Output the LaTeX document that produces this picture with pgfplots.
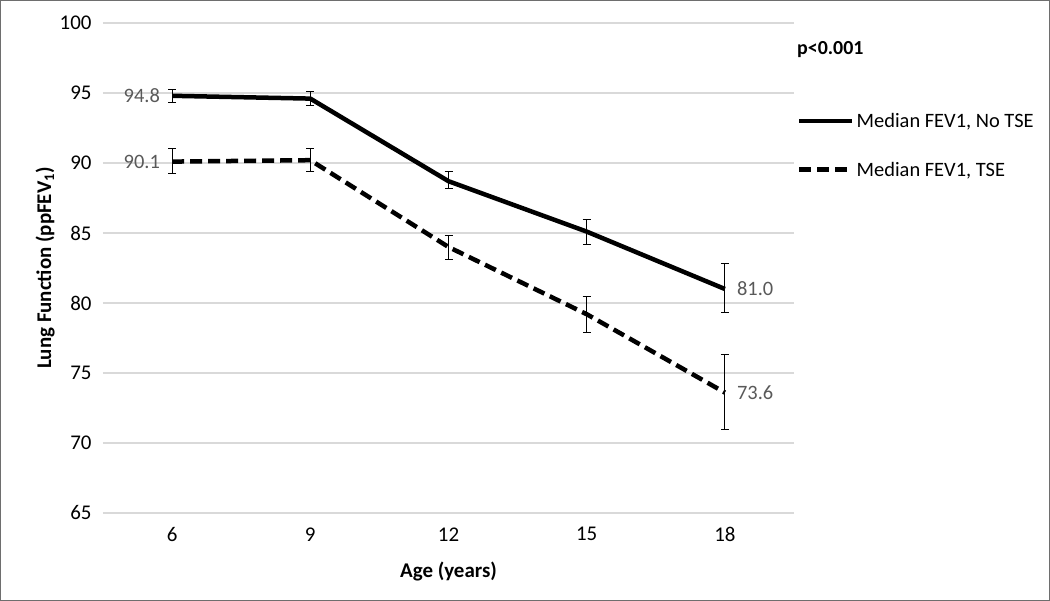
\documentclass[border=0pt]{standalone}
\usepackage{pgfplots}
\pgfplotsset{compat=1.18}
\usepackage{fontspec}
\setmainfont{Carlito}
\definecolor{gridgray}{HTML}{D9D9D9}
\definecolor{labgray}{HTML}{595959}
\definecolor{framegray}{HTML}{6E6E6E}
\begin{document}
\begin{tikzpicture}
\begin{axis}[
  at={(0,0)}, anchor=south west,
  scale only axis,
  width=691bp, height=490bp,
  xmin=-0.5, xmax=4.5,
  ymin=65, ymax=100,
  xtick={0,1,2,3,4},
  xticklabels={6,9,12,15,18},
  ytick={65,70,75,80,85,90,95,100},
  major tick length=0pt,
  axis line style={draw=none},
  ymajorgrids,
  grid style={gridgray, line width=1.2bp},
  tick label style={font=\fontsize{21}{25}\selectfont, black},
  xticklabel style={yshift=-11bp},
  yticklabel style={xshift=-8bp},
  /pgf/number format/assume math mode=true,
  xlabel={\bfseries Age (years)},
  ylabel={\bfseries Lung Function (ppFEV\textsubscript{1})},
  label style={font=\fontsize{21}{25}\selectfont},
  xlabel style={at={(axis description cs:0.5,-0.1204)}, anchor=center},
  ylabel style={at={(axis description cs:-0.0839,0.5)}, anchor=center},
  clip=false,
  legend style={draw=none, fill=none, at={(axis description cs:1,0.8245)}, xshift=0bp,
    anchor=north west, font=\fontsize{20.5}{24}\selectfont, row sep=29bp,
    legend cell align=left},
  legend image code/.code={\draw[#1] (0bp,0bp) -- (53bp,0bp);},
  error bars/error mark=-,
  error bars/error bar style={solid, black, line width=1.1bp},
  error bars/error mark options={rotate=90, solid, black, line width=1.1bp, mark size=4bp},
]
\addplot[black, line width=4.5bp, line join=round,
  error bars/.cd, y dir=both, y explicit]
coordinates {
  (0,94.8) += (0,0.46) -= (0,0.5)
  (1,94.6) += (0,0.5) -= (0,0.5)
  (2,88.7) += (0,0.7) -= (0,0.5)
  (3,85.1) += (0,0.85) -= (0,0.95)
  (4,81.0) += (0,1.8) -= (0,1.7)
};
\addlegendentry{Median FEV1, No TSE}
\addplot[black, line width=4.5bp, dash pattern=on 12bp off 6bp,
  error bars/.cd, y dir=both, y explicit]
coordinates {
  (0,90.1) += (0,0.95) -= (0,0.85)
  (1,90.2) += (0,0.85) -= (0,0.8)
  (2,84.0) += (0,0.8) -= (0,0.9)
  (3,79.2) += (0,1.25) -= (0,1.3)
  (4,73.6) += (0,2.75) -= (0,2.65)
};
\addlegendentry{Median FEV1, TSE}
\node[anchor=east, inner sep=0pt, xshift=-12bp, labgray, font=\fontsize{20.5}{24}\selectfont] at (axis cs:0,94.8) {94.8};
\node[anchor=east, inner sep=0pt, xshift=-12bp, labgray, font=\fontsize{20.5}{24}\selectfont] at (axis cs:0,90.1) {90.1};
\node[anchor=west, inner sep=0pt, xshift=12bp, labgray, font=\fontsize{20.5}{24}\selectfont] at (axis cs:4,81.0) {81.0};
\node[anchor=west, inner sep=0pt, xshift=12bp, labgray, font=\fontsize{20.5}{24}\selectfont] at (axis cs:4,73.6) {73.6};
\node[anchor=west, inner sep=0pt, xshift=3bp, font=\bfseries\fontsize{20}{24}\selectfont] at (axis description cs:1,0.945) {p<0.001};
\end{axis}
\draw[framegray, line width=1.5bp] (-102.25bp,-87.25bp) rectangle (946.25bp,512.25bp);
\end{tikzpicture}
\end{document}
